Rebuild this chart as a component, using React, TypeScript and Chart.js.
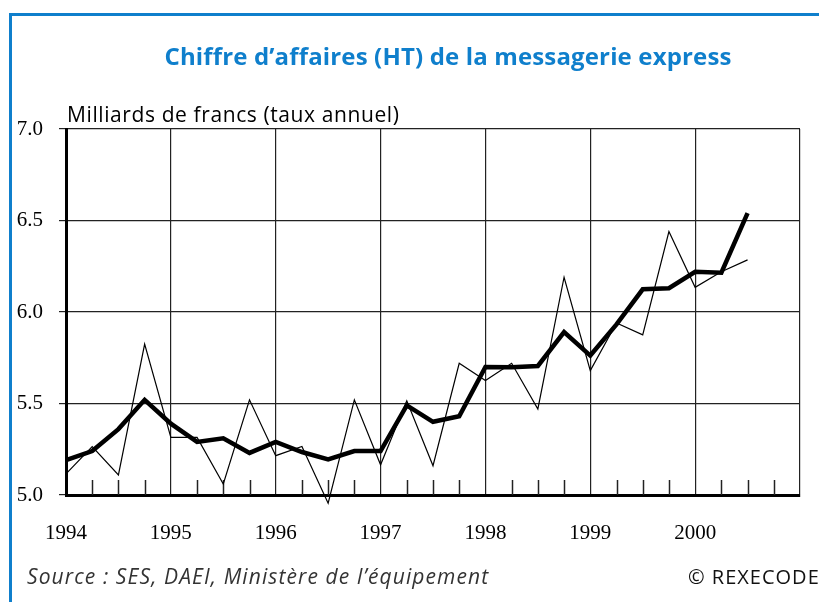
import React, { useEffect, useRef } from "react";
import { Chart, registerables } from "chart.js";

Chart.register(...registerables);

// ---- data ----
const years = ["1994", "1995", "1996", "1997", "1998", "1999", "2000", "2001"];
const quarters: string[] = [];
years.forEach((y) => ["T1", "T2", "T3", "T4"].forEach((q) => quarters.push(`${y} ${q}`)));
const categories = quarters.slice(0, 29); // 1994 T1 ... 2001 T1

// quarterly values (thin) and smoothed values (thick)
const rawQuarterly = [
  5.115, 5.265, 5.11, 5.825, 5.315, 5.315, 5.06, 5.52, 5.215, 5.265, 4.955, 5.52, 5.165, 5.515,
  5.16, 5.72, 5.625, 5.72, 5.47, 6.19, 5.68, 5.94, 5.875, 6.44, 6.135, 6.22, 6.285,
];
const smoothed = [
  5.19, 5.24, 5.36, 5.52, 5.39, 5.29, 5.31, 5.23, 5.29, 5.235, 5.195, 5.24, 5.24, 5.49, 5.4,
  5.43, 5.7, 5.698, 5.705, 5.89, 5.762, 5.932, 6.124, 6.13, 6.22, 6.215, 6.54,
];
const yTicks = [5.0, 5.5, 6.0, 6.5, 7.0];

const title = "Chiffre d\u2019affaires (HT) de la messagerie express";
const unitLabel = "Milliards de francs (taux annuel)";
const sourceText = "Source : SES, DAEI, Minist\u00e8re de l\u2019\u00e9quipement";
const copyright = "\u00a9 REXECODE";

const BLUE = "#0f7fcc";
const GRID = "#222";

const quarterTicks = {
  id: "quarterTicks",
  beforeDatasetsDraw(chart: any) {
    const { ctx, chartArea, scales } = chart;
    const x = scales.x;
    ctx.save();
    ctx.strokeStyle = GRID;
    ctx.lineWidth = 1.5;
    for (let i = 0; i < categories.length; i++) {
      if (i % 4 === 0) continue;
      const px = Math.round(x.getPixelForValue(i)) + 0.5;
      ctx.beginPath();
      ctx.moveTo(px, chartArea.bottom);
      ctx.lineTo(px, chartArea.bottom - 15);
      ctx.stroke();
    }
    ctx.restore();
  },
};

export default function App() {
  const ref = useRef<HTMLCanvasElement | null>(null);
  useEffect(() => {
    if (!ref.current) return;
    const chart = new Chart(ref.current, {
      type: "line",
      data: {
        labels: categories,
        datasets: [
          {
            label: "Trimestriel",
            data: rawQuarterly,
            borderColor: "#000",
            borderWidth: 1.2,
            pointRadius: 0,
            tension: 0,
            clip: false as any,
          },
          {
            label: "Lissé",
            data: smoothed,
            borderColor: "#000",
            borderWidth: 4.5,
            pointRadius: 0,
            tension: 0,
            borderJoinStyle: "miter",
            clip: false as any,
          },
        ],
      },
      options: {
        responsive: false,
        animation: false,
        devicePixelRatio: 1,
        layout: { padding: { left: 0, top: 129, right: 19, bottom: 57 } },
        plugins: { legend: { display: false }, tooltip: { enabled: false }, title: { display: false } },
        scales: {
          x: {
            type: "category",
            offset: false,
            afterFit: (s: any) => {
              s.height = 50;
              s.paddingLeft = 0;
              s.paddingRight = 0;
            },
            border: { display: true, color: "#000", width: 3 },
            grid: {
              drawTicks: false,
              color: (c: any) => (c.index % 4 === 0 ? GRID : "rgba(0,0,0,0)"),
              lineWidth: 1.2,
            },
            ticks: {
              autoSkip: false,
              maxRotation: 0,
              padding: 26,
              color: "#000",
              font: { family: "'Liberation Serif', 'Times New Roman', serif", size: 21 },
              callback: (_v: any, i: number) =>
                i % 4 === 0 && i / 4 < years.length - 1 ? years[i / 4] : "",
            },
          },
          y: {
            min: 5,
            max: 7,
            afterFit: (s: any) => {
              s.width = 66;
              s.paddingTop = 0;
              s.paddingBottom = 0;
            },
            afterBuildTicks: (s: any) => {
              s.ticks = yTicks.map((v) => ({ value: v }));
            },
            border: { display: true, color: "#000", width: 3 },
            grid: { color: GRID, lineWidth: 1.2, drawTicks: true, tickLength: 7 },
            ticks: {
              padding: 16,
              color: "#000",
              font: { family: "'Liberation Serif', 'Times New Roman', serif", size: 21 },
              callback: (v: any) => Number(v).toFixed(1),
            },
          },
        },
      },
      plugins: [quarterTicks],
    });
    return () => chart.destroy();
  }, []);

  return (
    <div style={{ position: "fixed", left: 0, top: 0, width: 819, height: 602, overflow: "hidden", background: "#fff" }}>
      <div
        style={{
          position: "absolute",
          left: 9,
          top: 13,
          width: 900,
          height: 700,
          borderTop: `3px solid ${BLUE}`,
          borderLeft: `3px solid ${BLUE}`,
          boxSizing: "border-box",
        }}
      />
      <canvas ref={ref} width={819} height={602} style={{ position: "absolute", left: 0, top: 0, width: 819, height: 602 }} />
      <div
        style={{
          position: "absolute",
          left: 448,
          top: 44,
          transform: "translateX(-50%)",
          whiteSpace: "nowrap",
          fontFamily: "'Open Sans', 'Noto Sans', sans-serif",
          fontWeight: 700,
          fontSize: 24,
          letterSpacing: 0.15,
          lineHeight: 1,
          color: BLUE,
        }}
      >
        {title}
      </div>
      <div
        style={{
          position: "absolute",
          left: 67,
          top: 104,
          whiteSpace: "nowrap",
          fontFamily: "'Open Sans', 'Noto Sans', sans-serif",
          fontSize: 21,
          letterSpacing: 0.6,
          lineHeight: 1,
          color: "#000",
        }}
      >
        {unitLabel}
      </div>
      <div
        style={{
          position: "absolute",
          left: 27,
          top: 566,
          whiteSpace: "nowrap",
          fontFamily: "'Open Sans', 'Noto Sans', sans-serif",
          fontStyle: "italic",
          fontSize: 21,
          letterSpacing: 1.1,
          lineHeight: 1,
          color: "#333",
        }}
      >
        {sourceText}
      </div>
      <div
        style={{
          position: "absolute",
          left: 688,
          top: 567,
          whiteSpace: "nowrap",
          fontFamily: "'Open Sans', 'Noto Sans', sans-serif",
          fontSize: 20,
          letterSpacing: 1,
          lineHeight: 1,
          color: "#111",
        }}
      >
        {copyright}
      </div>
    </div>
  );
}
